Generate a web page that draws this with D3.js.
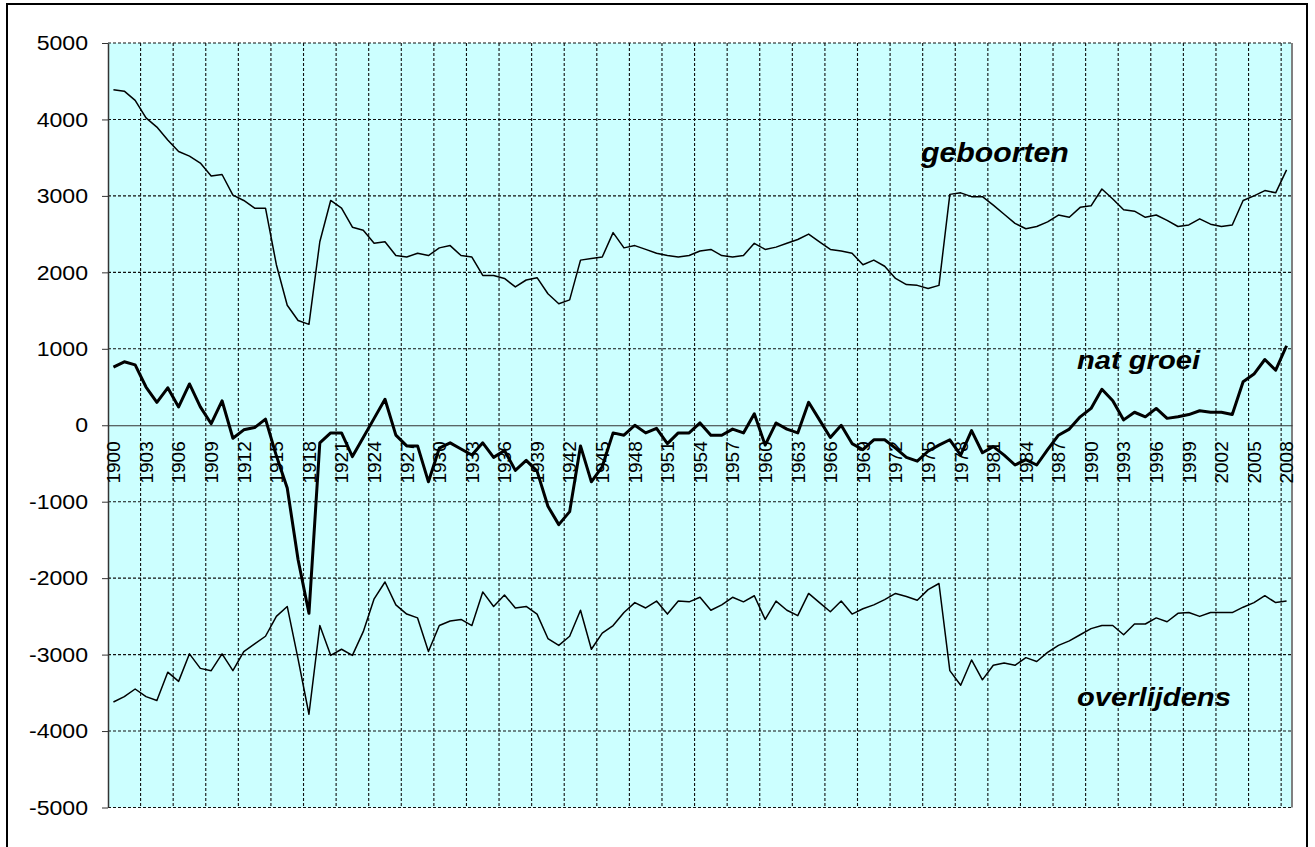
<!DOCTYPE html>
<html>
<head>
<meta charset="utf-8">
<script src="https://cdn.jsdelivr.net/npm/d3@7"></script>
<style>
  body { margin: 0; background: #fff; }
  svg { display: block; font-family: "Liberation Sans", Arial, sans-serif; }
</style>
</head>
<body>
<svg width="1315" height="847"></svg>
<script>
// years 1900 .. 2008
var years = d3.range(1900, 2009);

var geboorten = [
  4390, 4370, 4250, 4020, 3900, 3730, 3580, 3520, 3430, 3260,
  3280, 3010, 2940, 2840, 2840, 2100, 1570, 1370, 1320, 2400,
  2940, 2840, 2590, 2550, 2380, 2400, 2220, 2200, 2250, 2220,
  2320, 2350, 2220, 2200, 1960, 1960, 1920, 1810, 1900, 1930,
  1720, 1590, 1640, 2160, 2180, 2200, 2520, 2320, 2350, 2300,
  2250, 2220, 2200, 2220, 2280, 2300, 2220, 2200, 2220, 2380,
  2300, 2330, 2380, 2430, 2500, 2400, 2300, 2280, 2250, 2100,
  2160, 2080, 1920, 1840, 1830, 1790, 1830, 3020, 3040, 2990,
  2990, 2880, 2760, 2640, 2570, 2600, 2660, 2750, 2720, 2850,
  2870, 3090, 2960, 2820, 2800, 2720, 2750, 2680, 2600, 2620,
  2700, 2630, 2600, 2620, 2940, 3000, 3070, 3040, 3340
];

var overlijdens = [
  -3620, -3550, -3450, -3550, -3600, -3230, -3350, -2990, -3180, -3210,
  -2990, -3210, -2960, -2860, -2760, -2500, -2370, -3060, -3780, -2620,
  -3010, -2930, -3010, -2700, -2270, -2050, -2350, -2470, -2520, -2960,
  -2620, -2560, -2540, -2620, -2180, -2370, -2220, -2390, -2370, -2470,
  -2790, -2880, -2760, -2420, -2930, -2720, -2620, -2450, -2320, -2390,
  -2300, -2470, -2300, -2310, -2250, -2420, -2350, -2250, -2310, -2230,
  -2540, -2300, -2420, -2490, -2200, -2320, -2440, -2300, -2470, -2400,
  -2350, -2280, -2200, -2240, -2290, -2150, -2070, -3210, -3400, -3070,
  -3330, -3140, -3110, -3140, -3040, -3090, -2970, -2880, -2820, -2740,
  -2660, -2620, -2620, -2740, -2600, -2600, -2520, -2570, -2460, -2450,
  -2500, -2450, -2450, -2450, -2380, -2320, -2230, -2320, -2300
];

var natGroei = [
  760, 830, 790, 500, 300, 490, 240, 540, 240, 20,
  320, -170, -60, -30, 80, -400, -820, -1760, -2460, -230,
  -100, -100, -410, -160, 90, 340, -130, -270, -270, -740,
  -300, -230, -310, -390, -230, -420, -330, -590, -460, -600,
  -1060, -1300, -1130, -270, -740, -540, -100, -130, 0, -100,
  -40, -240, -100, -100, 30, -130, -130, -50, -100, 150,
  -260, 30, -50, -100, 300, 70, -160, 0, -240, -320,
  -190, -190, -300, -420, -470, -340, -260, -190, -390, -70,
  -360, -280, -390, -520, -450, -520, -320, -130, -50, 110,
  220, 470, 320, 70, 170, 110, 220, 90, 110, 140,
  190, 170, 170, 140, 570, 670, 860, 720, 1040
];

var yTicks = d3.range(-5000, 5001, 1000);
var xLabelYears = years.filter(function(d, i) { return i % 3 === 0; });

var svg = d3.select("svg");

// plot area edges (avoid the global name "top")
var pLeft = 108, pRight = 1292, pTop = 43, pBottom = 807.5;

var x = d3.scaleBand().domain(years).range([pLeft, pRight]).padding(0);
var y = d3.scaleLinear().domain([-5000, 5000]).range([pBottom, pTop]);

// outer frame
svg.append("rect")
  .attr("x", 7).attr("y", 4)
  .attr("width", 1300).attr("height", 860)
  .attr("fill", "none").attr("stroke", "#000").attr("stroke-width", 2);

// plot area
svg.append("rect")
  .attr("x", pLeft).attr("y", pTop)
  .attr("width", pRight - pLeft).attr("height", pBottom - pTop)
  .attr("fill", "#ccffff");

// vertical gridlines every 3 categories
var vgrid = years.filter(function(d, i) { return i > 0 && i % 3 === 0; });
svg.append("g").selectAll("line")
  .data(vgrid)
.enter().append("line")
  .attr("x1", function(d) { return x(d); })
  .attr("x2", function(d) { return x(d); })
  .attr("y1", pTop).attr("y2", pBottom)
  .attr("stroke", "#111").attr("stroke-width", 1.1)
  .attr("stroke-dasharray", "3,2");

// horizontal gridlines
svg.append("g").selectAll("line")
  .data(yTicks.filter(function(d) { return d !== 0; }))
.enter().append("line")
  .attr("x1", pLeft).attr("x2", pRight)
  .attr("y1", function(d) { return y(d); })
  .attr("y2", function(d) { return y(d); })
  .attr("stroke", "#111").attr("stroke-width", 1.1)
  .attr("stroke-dasharray", "3,2");

// right border of plot area
svg.append("line")
  .attr("x1", pRight).attr("x2", pRight)
  .attr("y1", pTop).attr("y2", pBottom)
  .attr("stroke", "#808080").attr("stroke-width", 2);

// y axis (plain hyphen for negatives, as in the original)
var yAxis = svg.append("g")
  .attr("transform", "translate(" + pLeft + ",0)")
  .call(d3.axisLeft(y).tickValues(yTicks).tickSize(6).tickSizeOuter(0)
    .tickFormat(function(d) { return String(d); }));
yAxis.select(".domain").attr("stroke", "#333").attr("stroke-width", 1.5);
yAxis.selectAll(".tick line").attr("stroke", "#333");
yAxis.selectAll(".tick text")
  .attr("x", -20 / 1.1)
  .attr("transform", "scale(1.1,1)")
  .style("font-size", "21px")
  .style("font-family", "'Liberation Sans', Arial, sans-serif")
  .attr("fill", "#000");

// x axis on the zero line
var xAxis = svg.append("g")
  .attr("transform", "translate(0," + y(0) + ")")
  .call(d3.axisBottom(x).tickValues(xLabelYears).tickSize(0).tickSizeOuter(0));
xAxis.select(".domain").attr("stroke", "#333").attr("stroke-width", 1);
xAxis.selectAll(".tick text")
  .attr("transform", "rotate(-90)")
  .attr("x", -16).attr("y", 0).attr("dy", "0.36em")
  .style("text-anchor", "end")
  .style("font-size", "19px")
  .style("font-family", "'Liberation Sans', Arial, sans-serif")
  .attr("fill", "#000");

var line = d3.line()
  .x(function(d, i) { return x(years[i]) + x.bandwidth() / 2; })
  .y(function(d) { return y(d); });

svg.append("path").datum(geboorten)
  .attr("d", line).attr("fill", "none")
  .attr("stroke", "#000").attr("stroke-width", 1.5).attr("stroke-linejoin", "round");

svg.append("path").datum(overlijdens)
  .attr("d", line).attr("fill", "none")
  .attr("stroke", "#000").attr("stroke-width", 1.5).attr("stroke-linejoin", "round");

svg.append("path").datum(natGroei)
  .attr("d", line).attr("fill", "none")
  .attr("stroke", "#000").attr("stroke-width", 3).attr("stroke-linejoin", "round");

// series labels
var labels = [
  { text: "geboorten", x: 921, y: 162, size: 27.5 },
  { text: "nat groei", x: 1077, y: 369, size: 26.5 },
  { text: "overlijdens", x: 1077, y: 706, size: 26.5 }
];
svg.append("g").selectAll("text")
  .data(labels)
.enter().append("text")
  .attr("transform", function(d) { return "translate(" + d.x + "," + d.y + ") scale(1.1,1)"; })
  .style("font-size", function(d) { return d.size + "px"; })
  .style("font-weight", "bold")
  .style("font-style", "italic")
  .text(function(d) { return d.text; });
</script>
</body>
</html>
